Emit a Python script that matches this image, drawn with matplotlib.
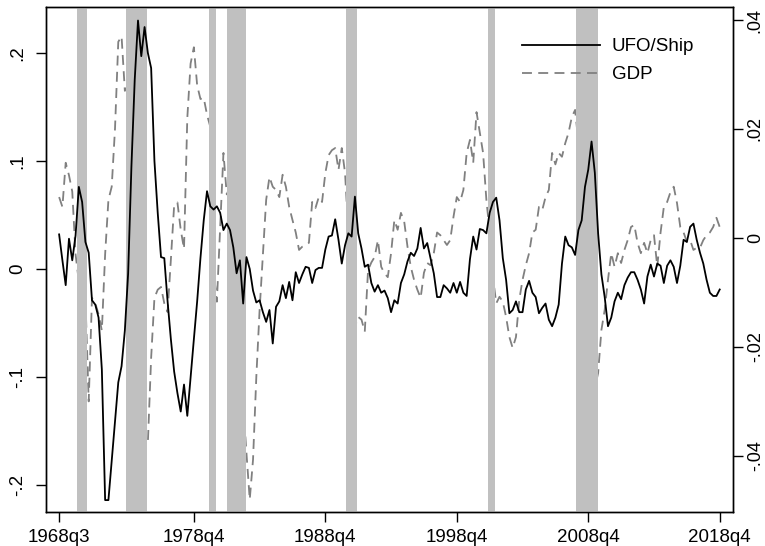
import numpy as np
import pandas as pd
import matplotlib
matplotlib.use("Agg")
import matplotlib.pyplot as plt

plt.rcParams['font.family'] = ['Liberation Sans', 'DejaVu Sans']

# quarterly series, 1968q3 .. 2018q4
first_q = "1968Q3"
last_q = "2018Q4"

ufo_ship = [
    0.032, 0.008, -0.015, 0.028, 0.008, 0.031, 0.076, 0.062, 0.025, 0.015,
    -0.029, -0.033, -0.045, -0.093, -0.214, -0.214, -0.178, -0.142, -0.105, -0.090,
    -0.057, -0.004, 0.095, 0.175, 0.230, 0.197, 0.224, 0.200, 0.186, 0.100,
    0.052, 0.011, 0.010, -0.030, -0.065, -0.095, -0.115, -0.132, -0.107, -0.136,
    -0.100, -0.065, -0.030, 0.010, 0.045, 0.072, 0.058, 0.055, 0.058, 0.052,
    0.036, 0.042, 0.036, 0.020, -0.004, 0.008, -0.032, 0.011, 0.000, -0.020,
    -0.031, -0.029, -0.040, -0.049, -0.038, -0.069, -0.035, -0.030, -0.015, -0.027,
    -0.012, -0.029, -0.003, -0.013, -0.005, 0.002, 0.001, -0.013, -0.001, 0.001,
    0.001, 0.018, 0.030, 0.031, 0.046, 0.027, 0.005, 0.022, 0.033, 0.030,
    0.067, 0.033, 0.019, 0.002, 0.004, -0.013, -0.021, -0.015, -0.022, -0.020,
    -0.027, -0.040, -0.029, -0.032, -0.013, -0.005, 0.007, 0.015, 0.012, 0.019,
    0.038, 0.019, 0.024, 0.010, -0.004, -0.026, -0.026, -0.015, -0.018, -0.022,
    -0.013, -0.022, -0.012, -0.022, -0.025, 0.009, 0.030, 0.018, 0.037, 0.036,
    0.033, 0.052, 0.062, 0.066, 0.045, 0.010, -0.010, -0.041, -0.038, -0.030,
    -0.040, -0.040, -0.019, -0.011, -0.022, -0.026, -0.041, -0.036, -0.032, -0.047,
    -0.053, -0.045, -0.033, 0.005, 0.030, 0.022, 0.020, 0.013, 0.036, 0.045,
    0.076, 0.092, 0.118, 0.089, 0.033, -0.005, -0.026, -0.053, -0.045, -0.030,
    -0.022, -0.028, -0.015, -0.008, -0.003, -0.003, -0.010, -0.019, -0.032, -0.007,
    0.004, -0.007, 0.005, 0.003, -0.013, 0.003, 0.008, 0.002, -0.013, 0.003,
    0.027, 0.025, 0.039, 0.042, 0.027, 0.015, 0.005, -0.010, -0.022, -0.025,
    -0.025, -0.019,
]

gdp = [
    0.0075, 0.0057, 0.0138, 0.0115, 0.0085, -0.0030, -0.0080, -0.0140, -0.0110, -0.0300,
    -0.0110, -0.0120, -0.0140, -0.0170, -0.0030, 0.0070, 0.0094, 0.0200, 0.0360, 0.0370,
    0.0270, 0.0280, 0.0120, -0.0050, -0.0200, -0.0300, -0.0376, -0.0376, -0.0220, -0.0110,
    -0.0095, -0.0090, -0.0120, -0.0136, -0.0040, 0.0060, 0.0065, 0.0015, -0.0020, 0.0220,
    0.0320, 0.0350, 0.0280, 0.0255, 0.0257, 0.0226, 0.0204, -0.0060, -0.0117, 0.0020,
    0.0156, 0.0080, 0.0094, 0.0020, -0.0120, -0.0285, -0.0303, -0.0395, -0.0480, -0.0407,
    -0.0255, -0.0132, -0.0030, 0.0070, 0.0112, 0.0094, 0.0088, 0.0075, 0.0116, 0.0094,
    0.0057, 0.0033, 0.0010, -0.0022, -0.0016, -0.0013, -0.0009, 0.0066, 0.0055, 0.0075,
    0.0066, 0.0119, 0.0152, 0.0161, 0.0165, 0.0125, 0.0165, 0.0119, 0.0010, -0.0127,
    -0.0163, -0.0145, -0.0150, -0.0172, -0.0059, -0.0045, -0.0035, -0.0004, -0.0053, -0.0065,
    -0.0072, -0.0028, 0.0033, 0.0015, 0.0046, 0.0030, -0.0016, -0.0053, -0.0077, -0.0095,
    -0.0110, -0.0064, -0.0046, -0.0050, -0.0028, 0.0010, 0.0005, -0.0004, -0.0013, -0.0004,
    0.0039, 0.0075, 0.0066, 0.0088, 0.0156, 0.0180, 0.0138, 0.0231, 0.0193, 0.0156,
    0.0070, 0.0010, -0.0072, -0.0120, -0.0108, -0.0117, -0.0145, -0.0182, -0.0202, -0.0182,
    -0.0114, -0.0077, -0.0050, -0.0028, 0.0010, 0.0015, 0.0057, 0.0051, 0.0075, 0.0088,
    0.0156, 0.0135, 0.0156, 0.0149, 0.0174, 0.0193, 0.0222, 0.0235, 0.0175, 0.0190,
    0.0120, -0.0110, -0.0211, -0.0275, -0.0248, -0.0169, -0.0132, -0.0077, -0.0028, -0.0053,
    -0.0028, -0.0046, -0.0022, -0.0004, 0.0020, 0.0024, -0.0009, -0.0028, -0.0009, -0.0028,
    -0.0004, 0.0005, -0.0053, 0.0010, 0.0057, 0.0066, 0.0084, 0.0094, 0.0064, 0.0020,
    0.0010, -0.0007, -0.0004, -0.0022, -0.0018, -0.0018, -0.0004, 0.0005, 0.0010, 0.0020,
    0.0037, 0.0020,
]

# recession shading, in decimal years (start, end)
recessions = [(1969.85, 1970.65), (1973.58, 1975.20), (1979.88, 1980.40),
              (1981.30, 1982.70), (1990.35, 1991.18), (2001.15, 2001.68),
              (2007.83, 2009.50)]

tick_quarters = ["1968Q3", "1978Q4", "1988Q4", "1998Q4", "2008Q4", "2018Q4"]
left_ticks = [-0.2, -0.1, 0.0, 0.1, 0.2]
left_labels = ["-.2", "-.1", "0", ".1", ".2"]
right_ticks = [-0.04, -0.02, 0.0, 0.02, 0.04]
right_labels = ["-.04", "-.02", "0", ".02", ".04"]

quarters = pd.period_range(first_q, last_q, freq="Q")
x = np.arange(len(quarters))
start_year = quarters[0].year + (quarters[0].quarter - 1) / 4.0

fig = plt.figure(figsize=(7.65, 5.46), dpi=100)
ax = fig.add_axes([0.0601, 0.0623, 0.8979, 0.925])
ax2 = ax.twinx()

for a, b in recessions:
    ax.axvspan((a - start_year) * 4, (b - start_year) * 4, color="#c0c0c0", lw=0, zorder=0)

l2, = ax2.plot(x, gdp, color="#808080", lw=1.3, linestyle=(0, (5.5, 3.5)), label="GDP")
l1, = ax.plot(x, ufo_ship, color="black", lw=1.3, label="UFO/Ship")

ax.set_zorder(ax2.get_zorder() + 1)
ax.patch.set_visible(False)

ax.set_xlim(-4, 205)
ax.set_ylim(-0.225, 0.2426)
ax2.set_ylim(-0.0503, 0.0424)

tick_pos = [quarters.get_loc(pd.Period(q, freq="Q")) for q in tick_quarters]
ax.set_xticks(tick_pos)
ax.set_xticklabels([f"{pd.Period(q, freq='Q').year}q{pd.Period(q, freq='Q').quarter}" for q in tick_quarters])

ax.set_yticks(left_ticks)
ax.set_yticklabels(left_labels, rotation=90, va="center")
ax2.set_yticks(right_ticks)
ax2.set_yticklabels(right_labels, rotation=90, va="center")

for a in (ax, ax2):
    a.tick_params(axis="both", labelsize=13.5, length=7, width=1, direction="out", pad=7)
    for s in a.spines.values():
        s.set_linewidth(1.0)
ax.tick_params(axis="x", pad=5)
ax2.tick_params(axis="y", labelsize=13, pad=3)

leg = ax.legend(handles=[l1, l2], loc="upper right", bbox_to_anchor=(0.968, 0.972),
                frameon=False, fontsize=13.5, handlelength=4.2, handletextpad=0.6,
                labelspacing=0.6)

fig.savefig("out.png", dpi=100)
